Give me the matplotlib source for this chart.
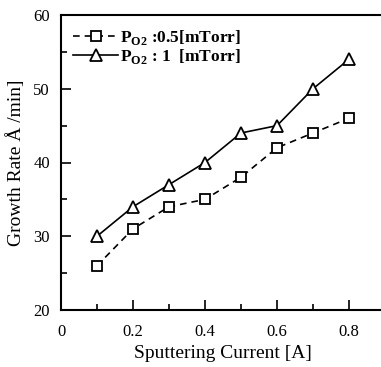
import matplotlib
matplotlib.use("Agg")
import matplotlib.pyplot as plt
from matplotlib.ticker import MultipleLocator

current = [0.1, 0.2, 0.3, 0.4, 0.5, 0.6, 0.7, 0.8]
rate_05 = [26, 31, 34, 35, 38, 42, 44, 46]
rate_1 = [30, 34, 37, 40, 44, 45, 50, 54]

plt.rcParams['font.family'] = ['Liberation Serif', 'DejaVu Serif']
plt.rcParams['mathtext.fontset'] = 'custom'
plt.rcParams['mathtext.rm'] = 'Liberation Serif'
plt.rcParams['mathtext.bf'] = 'Liberation Serif:bold'

fig = plt.figure(figsize=(3.81, 3.67), dpi=100)
# axes run a bit past the right edge, like the scanned figure
ax = fig.add_axes([61 / 381, 1 - 310 / 367, 324 / 381, 295 / 367])

ax.plot(current, rate_05, color='black', linestyle=(0, (4, 3)), linewidth=1.2,
        marker='s', markersize=7, markerfacecolor='white', markeredgecolor='black',
        markeredgewidth=1.3, label=r'P$_{\mathbf{O2}}$ :0.5[mTorr]')
ax.plot(current, rate_1, color='black', linestyle='-', linewidth=1.2,
        marker='^', markersize=8, markerfacecolor='white', markeredgecolor='black',
        markeredgewidth=1.3, label=r'P$_{\mathbf{O2}}$ : 1  [mTorr]')

ax.set_xlim(0, 0.9)
ax.set_ylim(20, 60)
ax.set_xticks([0, 0.2, 0.4, 0.6, 0.8])
ax.set_xticklabels(['0', '0.2', '0.4', '0.6', '0.8'])
ax.xaxis.set_minor_locator(MultipleLocator(0.1))
ax.set_yticks([20, 30, 40, 50, 60])
ax.yaxis.set_minor_locator(MultipleLocator(5))
ax.tick_params(which='major', direction='in', length=7, width=1.2, labelsize=12)
ax.tick_params(axis='x', which='major', pad=10)
ax.tick_params(axis='y', which='major', pad=8)
ax.tick_params(which='minor', direction='in', length=4, width=1.2)
for side in ['left', 'bottom', 'top']:
    ax.spines[side].set_linewidth(1.5)
ax.spines['right'].set_visible(False)

ax.set_xlabel('Sputtering Current [A]', fontsize=14, labelpad=4)
ax.set_ylabel('Growth Rate Å /min]', fontsize=14, labelpad=6)

ax.legend(loc='upper left', bbox_to_anchor=(0.005, 0.99), frameon=False,
          handlelength=2.6, handletextpad=0.1, borderaxespad=0.2, labelspacing=0.0,
          prop={'size': 12.5, 'weight': 'bold'})

fig.savefig('out.png', dpi=100)
